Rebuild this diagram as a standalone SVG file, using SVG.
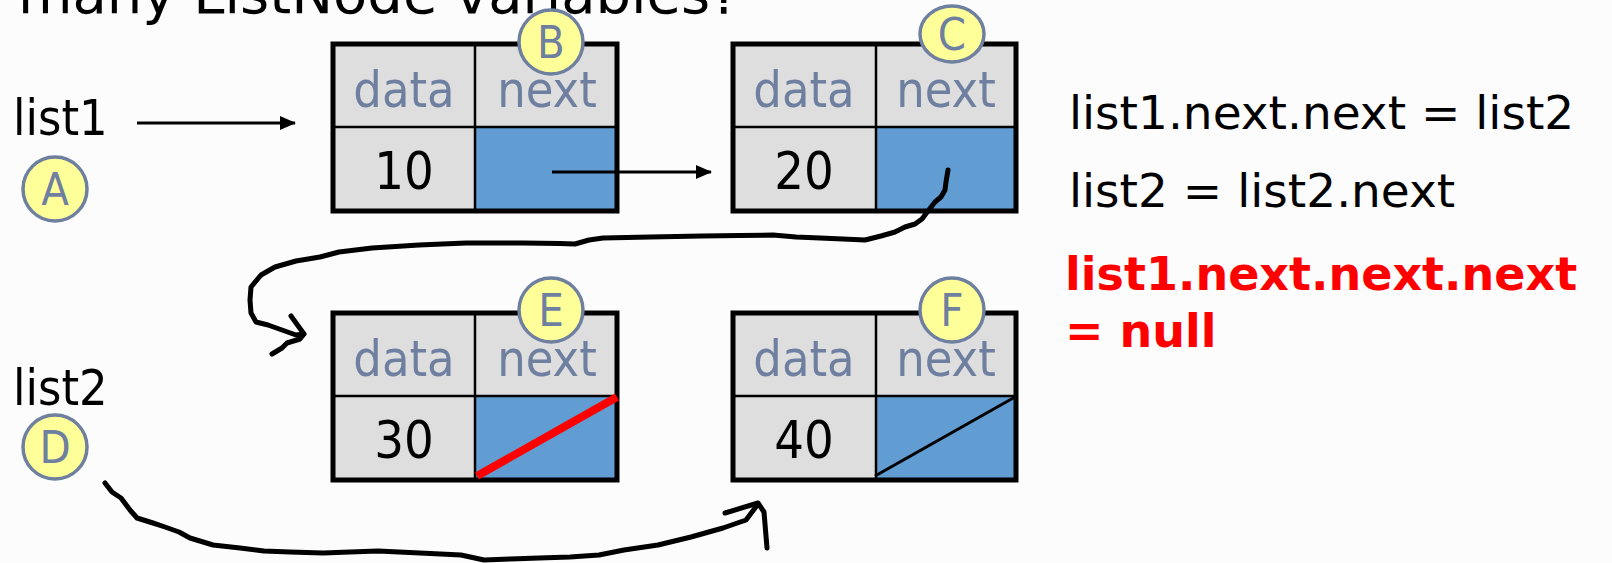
<svg xmlns="http://www.w3.org/2000/svg" width="1612" height="563" viewBox="0 0 1612 563">
<defs>
<style>
.bg{fill:#fcfcfc}
.cell{fill:#dedede}
.ptr{fill:#619cd2}
.frame{fill:none;stroke:#000;stroke-width:5}
.div{stroke:#000;stroke-width:2.5}
.field{font-family:"DejaVu Sans Condensed","DejaVu Sans",sans-serif;font-size:50px;fill:#6e7fa0;text-anchor:middle}
.num{font-family:"DejaVu Sans Condensed","DejaVu Sans",sans-serif;font-size:52px;fill:#000;text-anchor:middle}
.tag{fill:#ffff99;stroke:#6e7fa0;stroke-width:3.5}
.tagt{font-family:"DejaVu Sans Condensed","DejaVu Sans",sans-serif;font-size:45px;fill:#6e7fa0;text-anchor:middle}
.var{font-family:"DejaVu Sans Condensed","DejaVu Sans",sans-serif;font-size:50px;fill:#000}
.code{font-family:"DejaVu Sans",sans-serif;font-size:47px;fill:#000}
.red{font-family:"DejaVu Sans",sans-serif;font-weight:bold;font-size:46px;fill:#ff0000}
.title{font-family:"DejaVu Sans",sans-serif;font-size:56px;fill:#000}
.arrow{stroke:#000;stroke-width:3.2;fill:none;marker-end:url(#ah)}
.hand{stroke:#000;stroke-width:5;fill:none;stroke-linejoin:round;stroke-linecap:round}
</style>
<marker id="ah" markerUnits="userSpaceOnUse" markerWidth="16" markerHeight="16" viewBox="0 0 16 16" refX="15" refY="8" orient="auto">
<path d="M0,1 L16,8 L0,15 Z" fill="#000"/>
</marker>
</defs>
<rect class="bg" x="0" y="0" width="1612" height="563"/>

<text class="title" x="18" y="13">many ListNode variables?</text>

<g id="varA">
<text class="var" x="13" y="135">list1</text>
<circle class="tag" cx="55" cy="189" r="32"/>
<text class="tagt" x="55" y="205">A</text>
</g>

<g id="varD">
<text class="var" x="13" y="405">list2</text>
<circle class="tag" cx="55" cy="447" r="32"/>
<text class="tagt" x="55" y="463">D</text>
</g>

<g id="nodeB">
<rect class="cell" x="333" y="44" width="284" height="167"/>
<rect class="ptr" x="475" y="127" width="142" height="84"/>
<line class="div" x1="475" y1="44" x2="475" y2="211"/>
<line class="div" x1="333" y1="127" x2="617" y2="127"/>
<rect class="frame" x="333" y="44" width="284" height="167"/>
<text class="field" x="404" y="107">data</text>
<text class="field" x="547" y="107">next</text>
<text class="num" x="404" y="189">10</text>
<circle class="tag" cx="551" cy="42" r="32"/>
<text class="tagt" x="551" y="58">B</text>
</g>

<g id="nodeC">
<rect class="cell" x="733" y="44" width="283" height="167"/>
<rect class="ptr" x="876" y="127" width="140" height="84"/>
<line class="div" x1="876" y1="44" x2="876" y2="211"/>
<line class="div" x1="733" y1="127" x2="1016" y2="127"/>
<rect class="frame" x="733" y="44" width="283" height="167"/>
<text class="field" x="804" y="107">data</text>
<text class="field" x="946" y="107">next</text>
<text class="num" x="804" y="189">20</text>
<ellipse class="tag" cx="952" cy="34" rx="32" ry="28"/>
<text class="tagt" x="952" y="50">C</text>
</g>

<g id="nodeE">
<rect class="cell" x="333" y="313" width="284" height="167"/>
<rect class="ptr" x="475" y="396" width="142" height="84"/>
<line class="div" x1="475" y1="313" x2="475" y2="480"/>
<line class="div" x1="333" y1="396" x2="617" y2="396"/>
<rect class="frame" x="333" y="313" width="284" height="167"/>
<text class="field" x="404" y="376">data</text>
<text class="field" x="547" y="376">next</text>
<text class="num" x="404" y="458">30</text>
<line x1="477" y1="476" x2="617" y2="397" stroke="#ff0000" stroke-width="8"/>
<circle class="tag" cx="551" cy="310" r="32"/>
<text class="tagt" x="551" y="326">E</text>
</g>

<g id="nodeF">
<rect class="cell" x="733" y="313" width="283" height="167"/>
<rect class="ptr" x="876" y="396" width="140" height="84"/>
<line class="div" x1="876" y1="313" x2="876" y2="480"/>
<line class="div" x1="733" y1="396" x2="1016" y2="396"/>
<rect class="frame" x="733" y="313" width="283" height="167"/>
<text class="field" x="804" y="376">data</text>
<text class="field" x="946" y="376">next</text>
<text class="num" x="804" y="458">40</text>
<line x1="875" y1="476" x2="1015" y2="397" stroke="#000" stroke-width="3"/>
<circle class="tag" cx="952" cy="310" r="32"/>
<text class="tagt" x="952" y="326">F</text>
</g>

<g id="code">
<text class="code" x="1069" y="129">list1.next.next = list2</text>
<text class="code" x="1069" y="207">list2 = list2.next</text>
<text class="red" x="1065" y="290">list1.next.next.next</text>
<text class="red" x="1065" y="347">= null</text>
</g>

<g id="connectors">
<line class="arrow" x1="137" y1="123" x2="295" y2="123"/>
<line class="arrow" x1="552" y1="172" x2="711" y2="172"/>
<path class="hand" d="M948,170 L946,182 L945,190 L941,197 L935,202 L928,211 L922,219 L915,224 L905,227 L895,232 L881,236 L865,240 L843,239 L820,238 L796,237 L773,235 L740,235.5 L702,236 L650,237 L603,238 L589,240 L575,244 L560,243.5 L523,243 L466,243 L419,245 L372,248 L339,252 L320,257 L296,261 L275,267 L261,275 L251,287 L250,300 L251,313 L256,322 L268,325 L282,330 L296,335 L304,334"/>
<path class="hand" d="M291,316 L304,334 L300,339 L287,343 L282,348 L272,354"/>
<path class="hand" d="M105,483 L112,492 L121,498 L130,510 L137,518 L153,523 L165,527 L179,532 L190,538 L213,545 L240,548 L264,551 L290,552 L323,553 L350,552 L378,551 L420,553 L461,555 L484,560 L510,559 L539,558 L570,557 L599,555 L624,550 L658,545 L691,537 L723,528 L746,520 L758,504"/>
<path class="hand" d="M725,513 L758,503 L764,512 L767,548"/>
</g>
</svg>
